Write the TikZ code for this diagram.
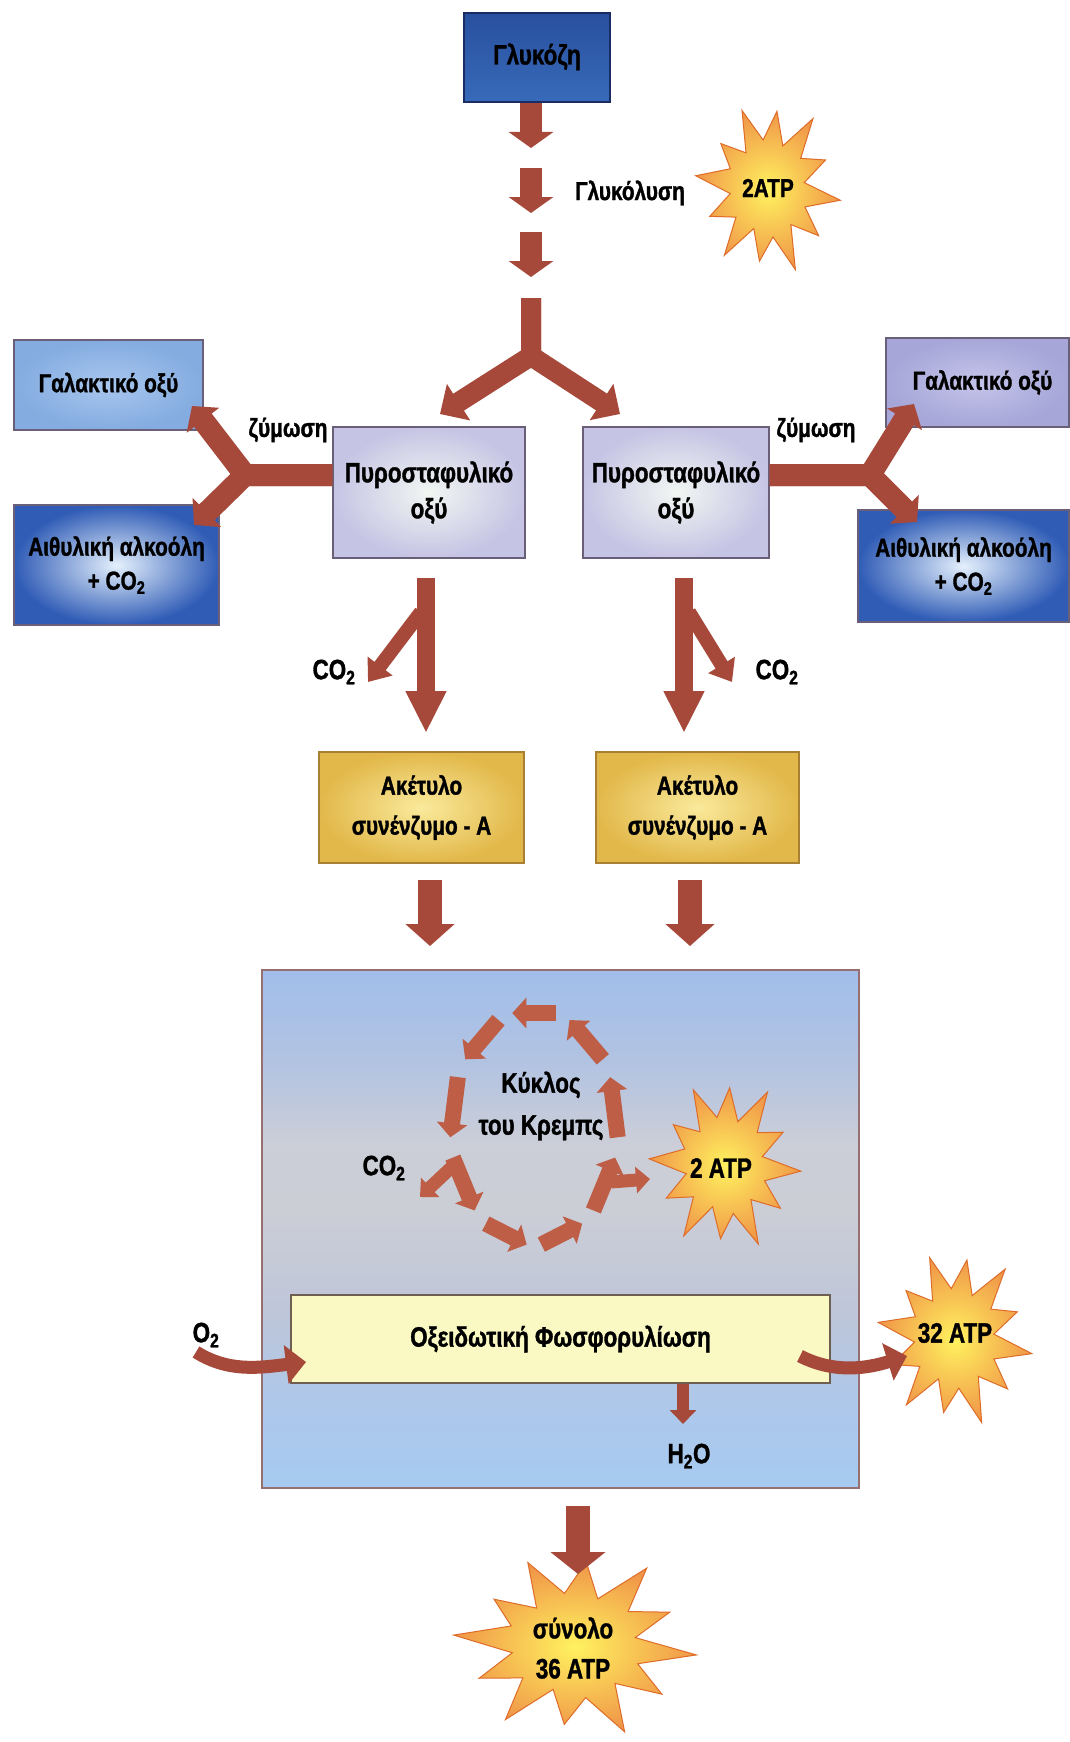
\documentclass[tikz,border=0pt]{standalone}
\usepackage{fontspec}
\newfontfamily\lblfont[FakeStretch=0.8,BoldFeatures={FakeBold=1.2}]{Liberation Sans}
\usetikzlibrary{arrows.meta}
\definecolor{arrowred}{RGB}{166,72,58}
\definecolor{kred}{RGB}{190,94,70}
\definecolor{gluT}{RGB}{40,80,158}
\definecolor{gluB}{RGB}{56,106,186}
\definecolor{gluE}{RGB}{25,45,100}
\definecolor{galLc}{RGB}{132,172,224}
\definecolor{galLi}{RGB}{168,198,238}
\definecolor{galRc}{RGB}{166,166,216}
\definecolor{galRi}{RGB}{196,196,234}
\definecolor{aitO}{RGB}{48,92,182}
\definecolor{aitI}{RGB}{228,240,252}
\definecolor{pyrO}{RGB}{198,196,228}
\definecolor{pyrI}{RGB}{242,246,242}
\definecolor{boxE}{RGB}{105,95,120}
\definecolor{acO}{RGB}{226,184,74}
\definecolor{acI}{RGB}{250,234,156}
\definecolor{acE}{RGB}{168,128,52}
\definecolor{bigE}{RGB}{150,112,112}
\definecolor{oxF}{RGB}{250,249,196}
\definecolor{oxE}{RGB}{110,95,80}
\definecolor{burstIn}{RGB}{255,242,95}
\definecolor{burstOut}{RGB}{240,150,72}
\definecolor{burstEdge}{RGB}{222,108,40}
\pgfdeclareverticalshading{bigshade}{100bp}{%
  rgb(0bp)=(0.651,0.792,0.941);
  rgb(25bp)=(0.651,0.792,0.941);
  rgb(33bp)=(0.680,0.784,0.920);
  rgb(42bp)=(0.745,0.775,0.850);
  rgb(52bp)=(0.800,0.808,0.840);
  rgb(58bp)=(0.800,0.810,0.845);
  rgb(66bp)=(0.700,0.765,0.885);
  rgb(75bp)=(0.630,0.745,0.918);
  rgb(100bp)=(0.630,0.745,0.918)}
\newcommand\mkburst[5]{%
  \shade[inner color=burstIn, outer color=burstOut, draw=burstEdge, line width=1pt, line join=miter, miter limit=25]
  ({#1+#3*cos(#5)},{#2+#4*sin(#5)})
  \foreach \kk/\ff in {1/0.55,2/0.88,3/0.52,4/1,5/0.56,6/0.84,7/0.5,8/0.97,9/0.55,10/0.86,11/0.52,12/1,13/0.56,14/0.82,15/0.5,16/0.95,17/0.55,18/0.88,19/0.52,20/1,21/0.56,22/0.85,23/0.5}
  {-- ({#1+\ff*#3*cos(#5+\kk*15)},{#2+\ff*#4*sin(#5+\kk*15)})} -- cycle;}
\begin{document}
\begin{tikzpicture}[x=1pt,y=-1pt,
  lbl/.style={font=\lblfont\bfseries\fontsize{26}{32}\selectfont, align=center, text=black, inner sep=0pt},
  lblbig/.style={font=\lblfont\bfseries\fontsize{28}{36}\selectfont, align=center, text=black, inner sep=0pt},
  box/.style={rectangle, inner sep=0pt, align=center, text=black, line width=1.2pt, font=\lblfont\bfseries\fontsize{26}{34}\selectfont},
  redarrow/.style={draw=arrowred, line cap=butt, line join=miter},
  kseg/.style={draw=kred, line cap=butt, line width=16pt, -{Triangle[width=30pt,length=14pt]}},
]
\useasboundingbox (0,0) rectangle (1069,1742);
\fill[white] (0,0) rectangle (1069,1742);

% big Krebs / oxidation box
\node[rectangle, draw=bigE, line width=1.2pt, shading=bigshade, minimum width=597pt, minimum height=518pt] (big) at (560.5,1229) {};

% boxes
\node[box, draw=gluE, top color=gluT, bottom color=gluB, minimum width=146pt, minimum height=89pt, font=\lblfont\bfseries\fontsize{28}{34}\selectfont, text depth=0pt, text height=14pt] (glu) at (537,57.5) {Γλυκόζη};
\node[box, draw=boxE, inner color=galLi, outer color=galLc, minimum width=189pt, minimum height=90pt] (galL) at (108.5,385) {Γαλακτικό οξύ};
\node[box, draw=boxE, inner color=galRi, outer color=galRc, minimum width=183pt, minimum height=89pt] (galR) at (977.5,382.5) {\hspace*{10pt}Γαλακτικό οξύ};
\node[box, draw=boxE, inner color=aitI, outer color=aitO, minimum width=205pt, minimum height=120pt] (aitL) at (116.5,565) {Αιθυλική αλκοόλη\\+ CO\textsubscript{2}};
\node[box, draw=boxE, inner color=aitI, outer color=aitO, minimum width=211pt, minimum height=112pt] (aitR) at (963.5,566) {Αιθυλική αλκοόλη\\+ CO\textsubscript{2}};
\node[box, draw=boxE, inner color=pyrI, outer color=pyrO, minimum width=192pt, minimum height=131pt, font=\lblfont\bfseries\fontsize{28}{36}\selectfont] (pyrL) at (429,492.5) {Πυροσταφυλικό\\οξύ};
\node[box, draw=boxE, inner color=pyrI, outer color=pyrO, minimum width=186pt, minimum height=131pt, font=\lblfont\bfseries\fontsize{28}{36}\selectfont] (pyrR) at (676,492.5) {Πυροσταφυλικό\\οξύ};
\node[box, draw=acE, inner color=acI, outer color=acO, minimum width=205pt, minimum height=111pt, font=\lblfont\bfseries\fontsize{26}{40}\selectfont] (acL) at (421.5,807.5) {Ακέτυλο\\συνένζυμο - A};
\node[box, draw=acE, inner color=acI, outer color=acO, minimum width=203pt, minimum height=111pt, font=\lblfont\bfseries\fontsize{26}{40}\selectfont] (acR) at (697.5,807.5) {Ακέτυλο\\συνένζυμο - A};
\node[box, draw=oxE, fill=oxF, minimum width=539pt, minimum height=88pt, font=\lblfont\bfseries\fontsize{28}{34}\selectfont] (ox) at (560.5,1339) {Οξειδωτική Φωσφορυλίωση};

% labels
\node[lbl] (glyc) at (630,193) {Γλυκόλυση};
\node[lbl] (zymL) at (288,430) {ζύμωση};
\node[lbl] (zymR) at (816,430) {ζύμωση};
\node[lblbig] (co2L) at (334,672) {CO\textsubscript{2}};
\node[lblbig] (co2R) at (777,672) {CO\textsubscript{2}};
\node[lblbig, font=\lblfont\bfseries\fontsize{28}{42}\selectfont] (krebs) at (541,1106) {Κύκλος\\του Κρεμπς};
\node[lblbig] (co2K) at (384,1168) {CO\textsubscript{2}};
\node[lblbig] (o2) at (206,1335) {O\textsubscript{2}};
\node[lblbig] (h2o) at (689,1456) {H\textsubscript{2}O};

% glycolysis arrows
\coordinate (g1e) at (531,148);
\coordinate (g2s) at (531,168); \coordinate (g2e) at (531,213);
\coordinate (g3s) at (531,232); \coordinate (g3e) at (531,277);
\coordinate (g4s) at (531,298); \coordinate (fork) at (531,356);
\coordinate (fkL) at (440,414); \coordinate (fkR) at (620,414);
\draw[redarrow, line width=22pt, -{Triangle[width=44pt,length=16pt]}] (glu.south -| g1e) -- (g1e);
\draw[redarrow, line width=22pt, -{Triangle[width=44pt,length=16pt]}] (g2s) -- (g2e);
\draw[redarrow, line width=22pt, -{Triangle[width=44pt,length=16pt]}] (g3s) -- (g3e);
\draw[redarrow, line width=20pt, -{Triangle[width=42pt,length=22pt]}] (g4s) -- (fork) -- (fkL);
\draw[redarrow, line width=20pt, -{Triangle[width=42pt,length=22pt]}] (g4s) -- (fork) -- (fkR);

% fermentation arrows
\coordinate (fLf) at (245,475); \coordinate (fLu) at (192,406); \coordinate (fLd) at (194,525);
\coordinate (fRf) at (870,475); \coordinate (fRu) at (914,404); \coordinate (fRd) at (917,522);
\draw[redarrow, line width=22pt, -{Triangle[width=40pt,length=18pt]}] (pyrL.west |- fLf) -- (fLf) -- (fLu);
\draw[redarrow, line width=22pt, -{Triangle[width=40pt,length=18pt]}] (pyrL.west |- fLf) -- (fLf) -- (fLd);
\draw[redarrow, line width=22pt, -{Triangle[width=40pt,length=18pt]}] (pyrR.east |- fRf) -- (fRf) -- (fRu);
\draw[redarrow, line width=22pt, -{Triangle[width=40pt,length=18pt]}] (pyrR.east |- fRf) -- (fRf) -- (fRd);

% pyruvate -> acetyl
\coordinate (pLs) at (426,578); \coordinate (pLe) at (426,733);
\coordinate (pRs) at (684,578); \coordinate (pRe) at (684,733);
\coordinate (cLs) at (421,612); \coordinate (cLe) at (368,682);
\coordinate (cRs) at (689,612); \coordinate (cRe) at (732,682);
\draw[redarrow, line width=14pt, -{Triangle[width=30pt,length=20pt]}] (cLs) -- (cLe);
\draw[redarrow, line width=14pt, -{Triangle[width=30pt,length=20pt]}] (cRs) -- (cRe);
\draw[redarrow, line width=18pt, -{Triangle[width=38pt,length=42pt]}] (pLs) -- (pLe);
\draw[redarrow, line width=18pt, -{Triangle[width=38pt,length=42pt]}] (pRs) -- (pRe);

% acetyl -> Krebs
\coordinate (aLs) at (430,880); \coordinate (aLe) at (430,946);
\coordinate (aRs) at (690,880); \coordinate (aRe) at (690,946);
\draw[redarrow, line width=24pt, -{Triangle[width=48pt,length=22pt]}] (aLs) -- (aLe);
\draw[redarrow, line width=24pt, -{Triangle[width=48pt,length=22pt]}] (aRs) -- (aRe);

% Krebs cycle segments
\foreach \a in {90,130,170,210,250,290,330,370,410}
  \draw[kseg] ({534+84*cos(\a-15)},{1127-118*sin(\a-15)}) -- ({534+84*cos(\a+15)},{1127-118*sin(\a+15)});
\coordinate (kcs) at (456,1163); \coordinate (kce) at (420,1197);
\coordinate (kas) at (611,1182); \coordinate (kae) at (650,1179);
\draw[draw=kred, line width=13pt, -{Triangle[width=26pt,length=14pt]}] (kcs) -- (kce);
\draw[draw=kred, line width=13pt, -{Triangle[width=26pt,length=14pt]}] (kas) -- (kae);

% stars
\mkburst{768}{188}{73}{88}{8}
\node[lbl] (atpA) at (768,188) {2ATP};
\mkburst{725}{1165}{76}{88}{4}
\node[lblbig] (atpB) at (721,1168) {2 ATP};
\mkburst{955}{1338}{78}{90}{10}
\node[lblbig] (atpC) at (955,1333) {32 ATP};
\mkburst{575}{1645}{122}{95}{6}
\node[lblbig, font=\lblfont\bfseries\fontsize{28}{40}\selectfont] (atpT) at (573,1648) {σύνολο\\36 ATP};

% O2 and 32 ATP swooshes, H2O, total
\coordinate (o2s) at (196,1352); \coordinate (o2e) at (306,1362);
\draw[redarrow, line width=13pt, -{Triangle[width=38pt,length=20pt]}] (o2s) .. controls (228,1372) and (258,1368) .. (o2e);
\coordinate (xs) at (800,1356); \coordinate (xe) at (907,1356);
\draw[redarrow, line width=13pt, -{Triangle[width=38pt,length=20pt]}] (xs) .. controls (835,1374) and (868,1368) .. (xe);
\coordinate (hs) at (683,1384); \coordinate (he) at (683,1424);
\draw[redarrow, line width=12pt, -{Triangle[width=26pt,length=14pt]}] (hs) -- (he);
\coordinate (ts) at (578,1506); \coordinate (te) at (578,1574);
\draw[redarrow, line width=24pt, -{Triangle[width=54pt,length=22pt]}] (ts) -- (te);
\end{tikzpicture}
\end{document}
